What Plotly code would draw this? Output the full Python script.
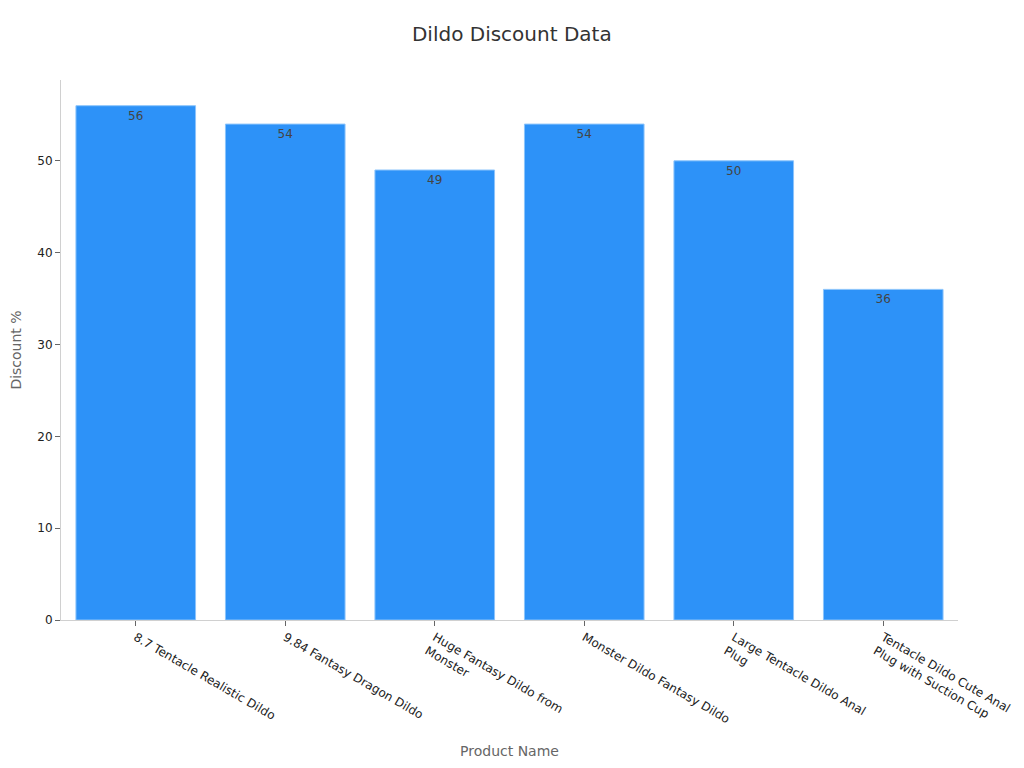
import plotly.graph_objects as go

products = [
    "8.7 Tentacle Realistic Dildo",
    "9.84 Fantasy Dragon Dildo",
    "Huge Fantasy Dildo from<br>Monster",
    "Monster Dildo Fantasy Dildo",
    "Large Tentacle Dildo Anal<br>Plug",
    "Tentacle Dildo Cute Anal<br>Plug with Suction Cup",
]
discounts = [56, 54, 49, 54, 50, 36]

fig = go.Figure(
    go.Bar(
        x=products,
        y=discounts,
        text=discounts,
        textposition="inside",
        insidetextanchor="end",
        textfont=dict(color="#444444", size=12),
        marker=dict(color="#2d92f8", line=dict(color="#8cc4fb", width=1)),
    )
)

# page body adds an 8px offset, so margins are shifted to compensate
fig.update_layout(
    title=dict(text="Dildo Discount Data", x=0.492, xanchor="center", y=0.975,
               font=dict(size=20, color="#333333")),
    font=dict(family="DejaVu Sans", size=12, color="#222222"),
    plot_bgcolor="white",
    paper_bgcolor="white",
    width=1024,
    height=768,
    margin=dict(l=53, r=74, t=72, b=156),
    bargap=0.2,
    showlegend=False,
)
fig.update_xaxes(
    title=dict(text="Product Name", font=dict(size=14, color="#666666"), standoff=15),
    tickangle=30,
    showline=True, linecolor="#d0d0d0",
    ticks="outside", tickcolor="#666666", ticklen=5,
    showgrid=False, automargin=False,
)
fig.update_yaxes(
    title=dict(text="Discount %", font=dict(size=14, color="#666666")),
    showline=True, linecolor="#d0d0d0",
    ticks="outside", tickcolor="#666666", ticklen=5,
    showgrid=False, zeroline=False,
    range=[0, 58.8], dtick=10, automargin=False,
)

fig.write_html("out.html")
